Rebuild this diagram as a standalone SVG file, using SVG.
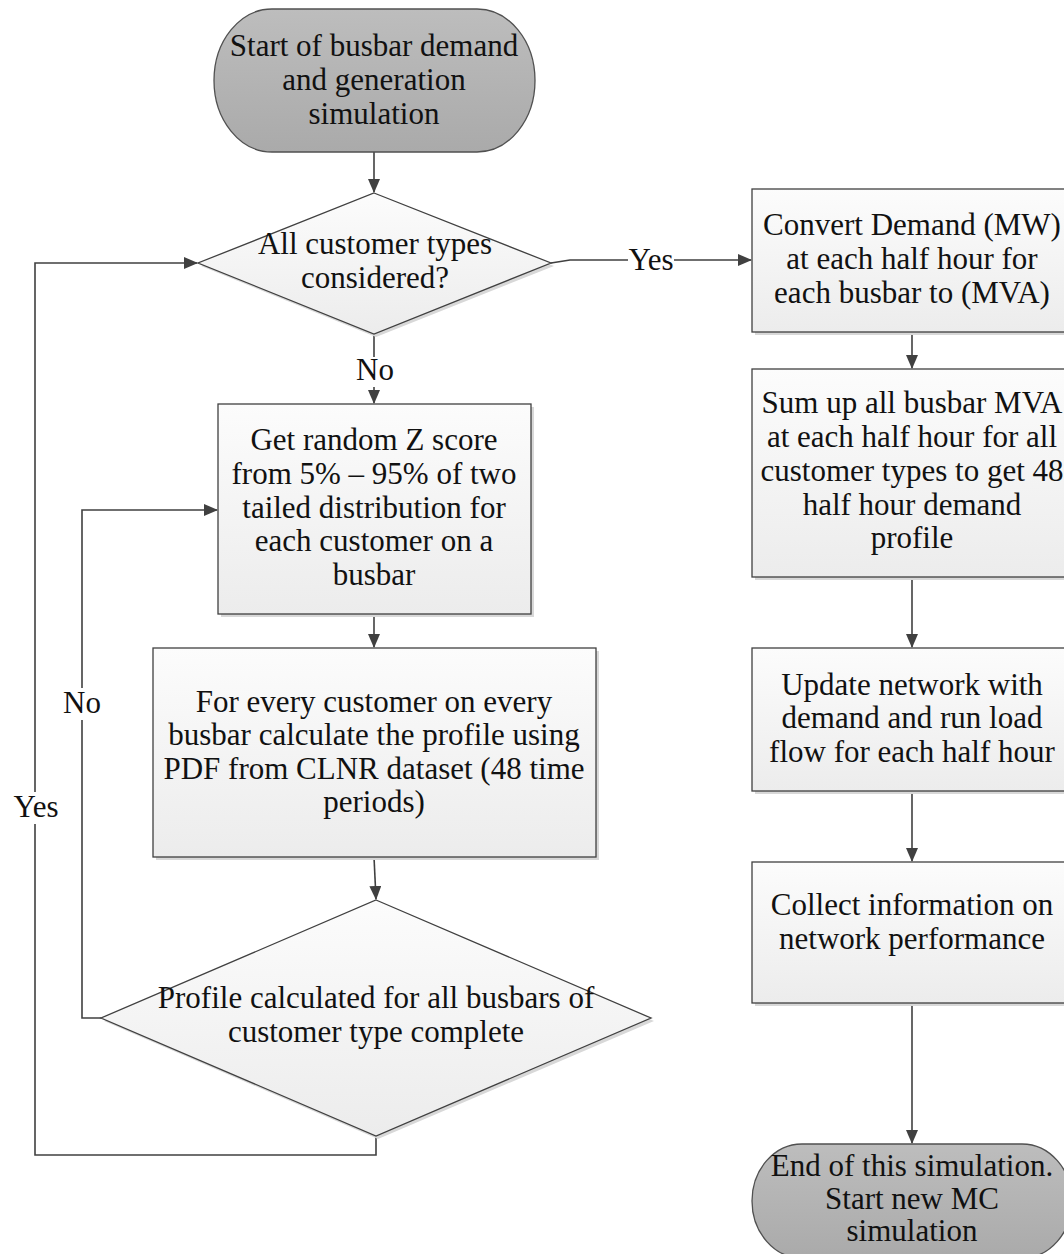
<svg xmlns="http://www.w3.org/2000/svg" width="1064" height="1254" viewBox="0 0 1064 1254">
<style>
text{font-family:"Liberation Serif","Times New Roman",serif;font-size:31px;fill:#111;text-anchor:middle}
.box{fill:url(#gBox);stroke:#404040;stroke-width:1.3}
.term{fill:url(#gTerm);stroke:#505050;stroke-width:1.3}
.sh{fill:#d8d8d8}
.conn{fill:none;stroke:#404040;stroke-width:1.6}
.lbl{fill:#fff}
</style>
<defs>
<linearGradient id="gBox" x1="0" y1="0" x2="0" y2="1">
<stop offset="0" stop-color="#fcfcfc"/>
<stop offset="1" stop-color="#ececec"/>
</linearGradient>
<linearGradient id="gTerm" x1="0" y1="0" x2="0" y2="1">
<stop offset="0" stop-color="#bdbdbd"/>
<stop offset="1" stop-color="#aaaaaa"/>
</linearGradient>
<marker id="arr" markerWidth="14" markerHeight="12" refX="13" refY="6" orient="auto" markerUnits="userSpaceOnUse">
<path d="M0,0 L14,6 L0,12 Z" fill="#404040"/>
</marker>
</defs>

<g id="connectors">
<path class="conn" d="M374,152 V192" marker-end="url(#arr)"/>
<path class="conn" d="M551,263 L570,260 H751" marker-end="url(#arr)"/>
<path class="conn" d="M374,334 V403" marker-end="url(#arr)"/>
<path class="conn" d="M374,614 V647" marker-end="url(#arr)"/>
<path class="conn" d="M374,857 L376,899" marker-end="url(#arr)"/>
<path class="conn" d="M101,1018 H82 V510 H217" marker-end="url(#arr)"/>
<path class="conn" d="M376,1136 V1155 H35 V263 H197" marker-end="url(#arr)"/>
<path class="conn" d="M912,332 V368" marker-end="url(#arr)"/>
<path class="conn" d="M912,577 V647" marker-end="url(#arr)"/>
<path class="conn" d="M912,791 V861" marker-end="url(#arr)"/>
<path class="conn" d="M912,1003 V1143" marker-end="url(#arr)"/>
<rect class="lbl" x="628" y="245" width="46" height="30"/>
<text x="651" y="270">Yes</text>
<rect class="lbl" x="356" y="357" width="38" height="30"/>
<text x="375" y="380">No</text>
<rect class="lbl" x="62" y="688" width="40" height="32"/>
<text x="82" y="713">No</text>
<rect class="lbl" x="14" y="792" width="44" height="32"/>
<text x="36" y="817">Yes</text>
</g>

<g id="start">
<rect class="term" x="214" y="9" width="321" height="143" rx="58" ry="71.5"/>
<text x="374" y="56">Start of busbar demand</text>
<text x="374" y="90">and generation</text>
<text x="374" y="124">simulation</text>
</g>

<g id="decision1">
<polygon class="sh" points="376,196 554,266 376,337 201,266"/>
<polygon class="box" points="374,193 551,263 374,334 198,263"/>
<text x="375" y="254">All customer types</text>
<text x="375" y="288">considered?</text>
</g>

<g id="zscore">
<rect class="sh" x="221" y="407" width="313" height="210"/>
<rect class="box" x="218" y="404" width="313" height="210"/>
<text x="374" y="450">Get random Z score</text>
<text x="374" y="484">from 5% – 95% of two</text>
<text x="374" y="518">tailed distribution for</text>
<text x="374" y="551">each customer on a</text>
<text x="374" y="585">busbar</text>
</g>

<g id="profile">
<rect class="sh" x="156" y="651" width="443" height="209"/>
<rect class="box" x="153" y="648" width="443" height="209"/>
<text x="374" y="712">For every customer on every</text>
<text x="374" y="745">busbar calculate the profile using</text>
<text x="374" y="779">PDF from CLNR dataset (48 time</text>
<text x="374" y="812">periods)</text>
</g>

<g id="decision2">
<polygon class="sh" points="378,903 654,1021 378,1139 104,1021"/>
<polygon class="box" points="376,900 651,1018 376,1136 101,1018"/>
<text x="376" y="1008">Profile calculated for all busbars of</text>
<text x="376" y="1042">customer type complete</text>
</g>

<g id="convert">
<rect class="sh" x="755" y="192" width="320" height="143"/>
<rect class="box" x="752" y="189" width="320" height="143"/>
<text x="912" y="235">Convert Demand (MW)</text>
<text x="912" y="269">at each half hour for</text>
<text x="912" y="303">each busbar to (MVA)</text>
</g>

<g id="sum">
<rect class="sh" x="755" y="372" width="320" height="208"/>
<rect class="box" x="752" y="369" width="320" height="208"/>
<text x="912" y="413">Sum up all busbar MVA</text>
<text x="912" y="447">at each half hour for all</text>
<text x="912" y="481">customer types to get 48</text>
<text x="912" y="515">half hour demand</text>
<text x="912" y="548">profile</text>
</g>

<g id="update">
<rect class="sh" x="755" y="651" width="320" height="143"/>
<rect class="box" x="752" y="648" width="320" height="143"/>
<text x="912" y="695">Update network with</text>
<text x="912" y="728">demand and run load</text>
<text x="912" y="762">flow for each half hour</text>
</g>

<g id="collect">
<rect class="sh" x="755" y="865" width="320" height="141"/>
<rect class="box" x="752" y="862" width="320" height="141"/>
<text x="912" y="915">Collect information on</text>
<text x="912" y="949">network performance</text>
</g>

<g id="end">
<rect class="term" x="752" y="1144" width="320" height="114" rx="50" ry="57"/>
<text x="912" y="1176">End of this simulation.</text>
<text x="912" y="1209">Start new MC</text>
<text x="912" y="1241">simulation</text>
</g>
</svg>
